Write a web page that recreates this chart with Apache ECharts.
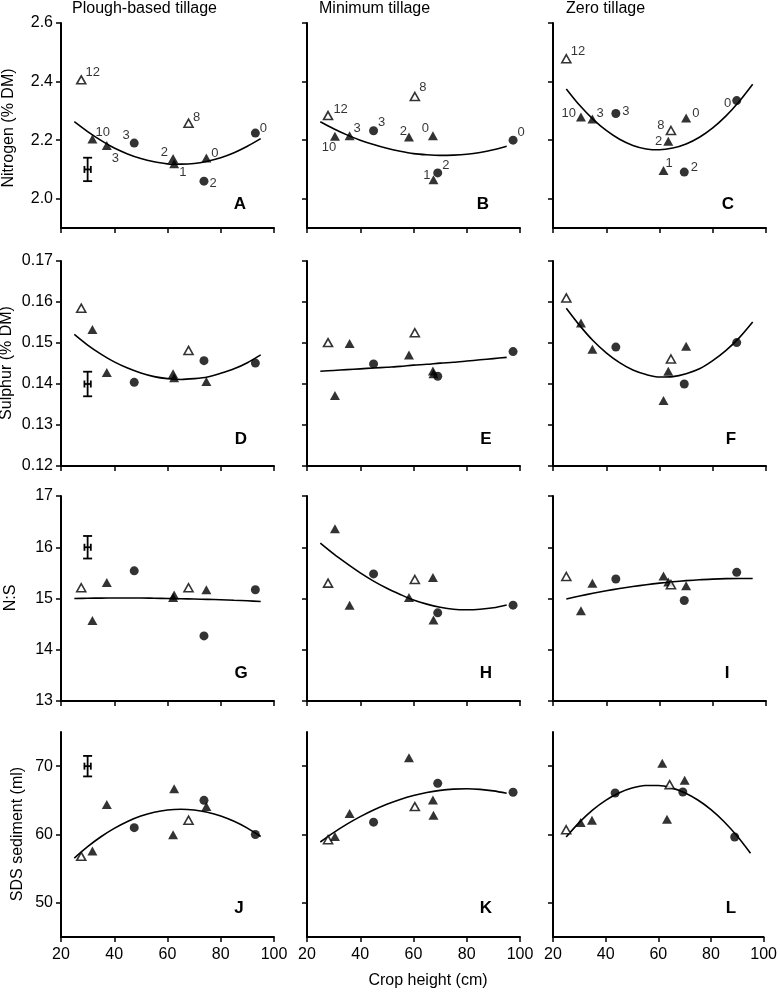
<!DOCTYPE html>
<html><head><meta charset="utf-8">
<script src="https://cdn.jsdelivr.net/npm/echarts@6/dist/echarts.min.js"></script>
<style>html,body{margin:0;padding:0;background:#fff}#chart{width:780px;height:999px}</style>
</head><body><div id="chart"></div>
<script>
// ---------- DATA ----------
const columnTitles = ['Plough-based tillage', 'Minimum tillage', 'Zero tillage'];
const rowTitles = ['Nitrogen (% DM)', 'Sulphur (% DM)', 'N:S', 'SDS sediment (ml)'];
const xTitle = 'Crop height (cm)';
const panelLetters = ['A','B','C','D','E','F','G','H','I','J','K','L'];

const xTicks = [20, 40, 60, 80, 100];
const nitrogenTicks = [2.0, 2.2, 2.4, 2.6];
const sulphurTicks = [0.12, 0.13, 0.14, 0.15, 0.16, 0.17];
const nsTicks = [13, 14, 15, 16, 17];
const sdsTicks = [50, 60, 70];

// Plough-based tillage
const cropHeightPlough = [27.6, 31.8, 37.2, 47.5, 62.1, 62.5, 67.9, 74.6, 73.7, 93.0];
const markerPlough = ['open','tri','tri','dot','tri','tri','open','tri','dot','dot'];
const labelPlough = ['12','10','3','3','2','1','8','0','2','0'];
const nitrogenPlough = [2.406, 2.204, 2.182, 2.190, 2.137, 2.119, 2.258, 2.139, 2.060, 2.224];
const sulphurPlough = [0.1585, 0.1533, 0.1428, 0.1404, 0.1425, 0.1415, 0.1482, 0.1406, 0.1457, 0.1451];
const nsPlough = [15.21, 14.57, 15.31, 15.54, 15.02, 15.07, 15.21, 15.17, 14.27, 15.17];
const sdsPlough = [56.8, 57.6, 64.4, 61.0, 59.96, 66.7, 62.1, 64.1, 65.0, 60.0];

// Minimum tillage
const cropHeightMin = [27.9, 30.5, 36.0, 45.0, 58.3, 60.5, 67.3, 67.5, 69.1, 97.4];
const markerMin = ['open','tri','tri','dot','tri','open','tri','tri','dot','dot'];
const labelMin = ['12','10','3','3','2','8','0','1','2','0'];
const nitrogenMin = [2.284, 2.213, 2.215, 2.232, 2.211, 2.349, 2.215, 2.065, 2.088, 2.200];
const sulphurMin = [0.1501, 0.1372, 0.1499, 0.1449, 0.1471, 0.1525, 0.1432, 0.1425, 0.1419, 0.1479];
const nsMin = [15.30, 16.36, 14.87, 15.48, 15.02, 15.37, 15.41, 14.58, 14.72, 14.87];
const sdsMin = [59.24, 59.72, 63.07, 61.81, 71.22, 64.08, 65.06, 62.83, 67.49, 66.18];

// Zero tillage
const cropHeightZero = [25.0, 30.5, 34.8, 43.6, 61.5, 63.3, 64.3, 70.0, 69.3, 89.0];
const markerZero = ['open','tri','tri','dot','tri','tri','open','tri','dot','dot'];
const labelZero = ['12','10','3','3','1','2','8','0','2','0'];
const nitrogenZero = [2.478, 2.279, 2.272, 2.291, 2.096, 2.196, 2.233, 2.276, 2.091, 2.335];
const sulphurZero = [0.1610, 0.1549, 0.1485, 0.1490, 0.1360, 0.1431, 0.1461, 0.1492, 0.1400, 0.1501];
const nsZero = [15.43, 14.76, 15.30, 15.38, 15.44, 15.32, 15.27, 15.25, 14.96, 15.51];
const sdsZero = [60.69, 61.75, 62.10, 66.08, 70.44, 62.25, 67.29, 67.93, 66.22, 59.63];

// Fitted curves
const fitX = [25, 30, 35, 40, 45, 50, 55, 60, 65, 70, 75, 80, 85, 90, 95];
const fitNitrogenPlough = [2.263, 2.229, 2.199, 2.173, 2.153, 2.137, 2.126, 2.119, 2.118, 2.120, 2.128, 2.140, 2.157, 2.179, 2.205];
const fitNitrogenMin = [2.263, 2.239, 2.218, 2.200, 2.185, 2.172, 2.162, 2.154, 2.150, 2.148, 2.149, 2.152, 2.158, 2.167, 2.179];
const fitNitrogenZero = [2.375, 2.319, 2.272, 2.233, 2.203, 2.182, 2.170, 2.167, 2.173, 2.187, 2.210, 2.242, 2.283, 2.333, 2.391];
const fitSulphurPlough = [0.1521, 0.1495, 0.1473, 0.1454, 0.1439, 0.1427, 0.1418, 0.1413, 0.1411, 0.1413, 0.1417, 0.1426, 0.1437, 0.1452, 0.1471];
const fitSulphurMin = [0.1431, 0.1433, 0.1435, 0.1437, 0.1439, 0.1441, 0.1443, 0.1446, 0.1448, 0.1451, 0.1453, 0.1456, 0.1459, 0.1462, 0.1465];
const fitSulphurZero = [0.1585, 0.1543, 0.1506, 0.1476, 0.1452, 0.1434, 0.1423, 0.1417, 0.1418, 0.1425, 0.1437, 0.1457, 0.1482, 0.1513, 0.1551];
const fitNsPlough = [15.00, 15.005, 15.008, 15.01, 15.01, 15.01, 15.005, 15.00, 14.995, 14.99, 14.983, 14.975, 14.965, 14.955, 14.94];
const fitNsMin = [16.08, 15.87, 15.68, 15.50, 15.34, 15.20, 15.08, 14.97, 14.89, 14.83, 14.79, 14.78, 14.79, 14.82, 14.875];
const fitNsZero = [14.99, 15.048, 15.101, 15.150, 15.194, 15.234, 15.269, 15.300, 15.326, 15.348, 15.366, 15.378, 15.387, 15.391, 15.390];
const fitSdsPlough = [56.55, 58.22, 59.67, 60.90, 61.91, 62.69, 63.25, 63.59, 63.70, 63.59, 63.26, 62.71, 61.93, 60.93, 59.71];
const fitSdsMin = [58.90, 60.27, 61.51, 62.61, 63.58, 64.42, 65.13, 65.71, 66.15, 66.46, 66.64, 66.69, 66.60, 66.38, 66.03];
const fitSdsZero = [59.63, 61.77, 63.56, 64.99, 66.07, 66.79, 67.16, 67.16, 66.82, 66.11, 65.05, 63.64, 61.87, 59.74, 57.26];

// Error bars (centre y, y half-width); shared centre x and x half-width
const errBarX = 30, errBarXHalf = 1.2;
const errBarNitrogen = [2.10, 0.04];
const errBarSulphur = [0.140, 0.003];
const errBarNs = [16.0, 0.22];
const errBarSds = [70, 1.5];

// ---------- LAYOUT / STYLE ----------
const labelLayoutPlough = [['r',-1,-7],['r',-2,-7],['r',0,13],['l',0,-8],['l',0,-6],['r',0,9],['r',-1,-6],['r',0,-5],['r',1,2],['r',0,-5]];
const labelLayoutMin = [['r',0,-6],['b',-6,0],['r',-1,-7],['r',0,-8],['l',3,-5],['r',-1,-9],['l',1,-7],['l',2,-4],['r',0,-8],['r',0,-8]];
const labelLayoutZero = [['r',-1,-7],['l',0,-4],['r',-1,-6],['r',2,-2],['r',-3,-7],['l',-1,0],['l',-1,-5],['r',1,-4],['r',2,-5],['l',-1,3]];

const FONT = '"Liberation Sans", Arial, sans-serif';
const gridLeft = [61, 307, 553];
const gridTop = [23, 261, 496, 732];
const gridW = 213, gridH = 205;

const columns = [
  {x: cropHeightPlough, marker: markerPlough, label: labelPlough, layout: labelLayoutPlough,
   rows: [nitrogenPlough, sulphurPlough, nsPlough, sdsPlough],
   fits: [fitNitrogenPlough, fitSulphurPlough, fitNsPlough, fitSdsPlough]},
  {x: cropHeightMin, marker: markerMin, label: labelMin, layout: labelLayoutMin,
   rows: [nitrogenMin, sulphurMin, nsMin, sdsMin],
   fits: [fitNitrogenMin, fitSulphurMin, fitNsMin, fitSdsMin]},
  {x: cropHeightZero, marker: markerZero, label: labelZero, layout: labelLayoutZero,
   rows: [nitrogenZero, sulphurZero, nsZero, sdsZero],
   fits: [fitNitrogenZero, fitSulphurZero, fitNsZero, fitSdsZero]}
];
const rowCfg = [
  {min: 1.9, max: 2.6, ticks: nitrogenTicks, dec: 1, err: errBarNitrogen},
  {min: 0.12, max: 0.17, ticks: sulphurTicks, dec: 2, err: errBarSulphur},
  {min: 13, max: 17, ticks: nsTicks, dec: 0, err: errBarNs},
  {min: 45, max: 75, ticks: sdsTicks, dec: 0, err: errBarSds}
];

const grids = [], xAxes = [], yAxes = [], series = [];
for (let r = 0; r < 4; r++) {
  for (let c = 0; c < 3; c++) {
    const idx = r * 3 + c;
    const col = columns[c], rc = rowCfg[r];
    grids.push({left: gridLeft[c], top: gridTop[r], width: gridW, height: gridH, containLabel: false});
    xAxes.push({
      gridIndex: idx, type: 'value', min: xTicks[0], max: xTicks[xTicks.length-1], interval: 20,
      axisLine: {onZero: false, lineStyle: {color: '#000', width: 2}},
      axisTick: {show: true, length: 5, lineStyle: {color: '#000', width: 1.5}},
      axisLabel: {show: r === 3, color: '#000', fontSize: 16, fontFamily: FONT, margin: 10},
      splitLine: {show: false}
    });
    yAxes.push({
      gridIndex: idx, type: 'value', min: rc.min, max: rc.max,
      axisLine: {show: true, onZero: false, lineStyle: {color: '#000', width: 2}},
      axisTick: {show: true, length: 5, customValues: rc.ticks, lineStyle: {color: '#000', width: 1.5}},
      axisLabel: {show: c === 0, customValues: rc.ticks, color: '#000', fontSize: 16, fontFamily: FONT, margin: 8,
                  formatter: (v) => Number(v).toFixed(rc.dec)},
      splitLine: {show: false}
    });
    // fitted curve
    series.push({
      type: 'line', xAxisIndex: idx, yAxisIndex: idx, smooth: 0.3, showSymbol: false, silent: true, z: 2,
      lineStyle: {color: '#000', width: 1.6},
      data: fitX.map((x, i) => [x, col.fits[r][i]])
    });
    // points
    const ys = col.rows[r];
    series.push({
      type: 'scatter', xAxisIndex: idx, yAxisIndex: idx, z: 3, silent: true,
      data: col.x.map((x, i) => {
        const m = col.marker[i];
        const item = {
          value: [x, ys[i]],
          symbol: m === 'dot' ? 'circle' : 'triangle',
          symbolSize: m === 'dot' ? 9 : (m === 'tri' ? [10, 9] : [9, 8]),
          itemStyle: m === 'open' ? {color: '#fff', borderColor: '#000', borderWidth: 1.6} : {color: '#000', borderWidth: 0}
        };
        if (r === 0) {
          const L = col.layout[i];
          const pos = L[0] === 'r' ? 'right' : (L[0] === 'l' ? 'left' : 'bottom');
          item.label = {show: true, formatter: col.label[i], position: pos, distance: 0, offset: [L[1], L[2]],
                        color: '#000', fontSize: 13, fontFamily: FONT};
        }
        return item;
      })
    });
    // error bar (first column only)
    if (c === 0) {
      series.push({
        type: 'custom', xAxisIndex: idx, yAxisIndex: idx, z: 3, silent: true,
        data: [[errBarX, rc.err[0], rc.err[1], errBarXHalf]],
        renderItem: (params, api) => {
          const x = api.value(0), y = api.value(1), e = api.value(2), h = api.value(3);
          const top = api.coord([x, y + e]), bot = api.coord([x, y - e]);
          const lft = api.coord([x - h, y]), rgt = api.coord([x + h, y]);
          const cap = 4.5, tk = 3.5;
          const st = {stroke: '#000', lineWidth: 1.8, fill: null};
          return {type: 'group', children: [
            {type: 'line', shape: {x1: top[0], y1: top[1], x2: bot[0], y2: bot[1]}, style: st},
            {type: 'line', shape: {x1: top[0]-cap, y1: top[1], x2: top[0]+cap, y2: top[1]}, style: st},
            {type: 'line', shape: {x1: bot[0]-cap, y1: bot[1], x2: bot[0]+cap, y2: bot[1]}, style: st},
            {type: 'line', shape: {x1: lft[0], y1: lft[1], x2: rgt[0], y2: rgt[1]}, style: st},
            {type: 'line', shape: {x1: lft[0], y1: lft[1]-tk, x2: lft[0], y2: lft[1]+tk}, style: st},
            {type: 'line', shape: {x1: rgt[0], y1: rgt[1]-tk, x2: rgt[0], y2: rgt[1]+tk}, style: st}
          ]};
        }
      });
    }
  }
}

const colTitleX = [72, 319, 566];
const letterPos = [[240,204],[483,204],[728,204],[241,439],[486,439],[731,439],[241,673],[486,673],[727,673],[239,908],[486,908],[731,908]];
const rowTitlePos = [[9,128],[7,363],[11,598],[18,834]];
const graphics = [];
columnTitles.forEach((t, i) => graphics.push({type: 'text', x: colTitleX[i], y: 9,
  style: {text: t, font: '16px ' + FONT, fill: '#000', align: 'left', verticalAlign: 'middle'}}));
panelLetters.forEach((t, i) => graphics.push({type: 'text', x: letterPos[i][0], y: letterPos[i][1],
  style: {text: t, font: 'bold 17px ' + FONT, fill: '#000', align: 'center', verticalAlign: 'middle'}}));
rowTitles.forEach((t, i) => graphics.push({type: 'text', x: rowTitlePos[i][0], y: rowTitlePos[i][1], rotation: Math.PI / 2,
  style: {text: t, font: '16px ' + FONT, fill: '#000', align: 'center', verticalAlign: 'middle'}}));
graphics.push({type: 'text', x: 428, y: 981,
  style: {text: xTitle, font: '16px ' + FONT, fill: '#000', align: 'center', verticalAlign: 'middle'}});

const chart = echarts.init(document.getElementById('chart'), null, {renderer: 'canvas'});
chart.setOption({
  animation: false,
  backgroundColor: '#fff',
  grid: grids, xAxis: xAxes, yAxis: yAxes, series: series, graphic: graphics
});
</script></body></html>
